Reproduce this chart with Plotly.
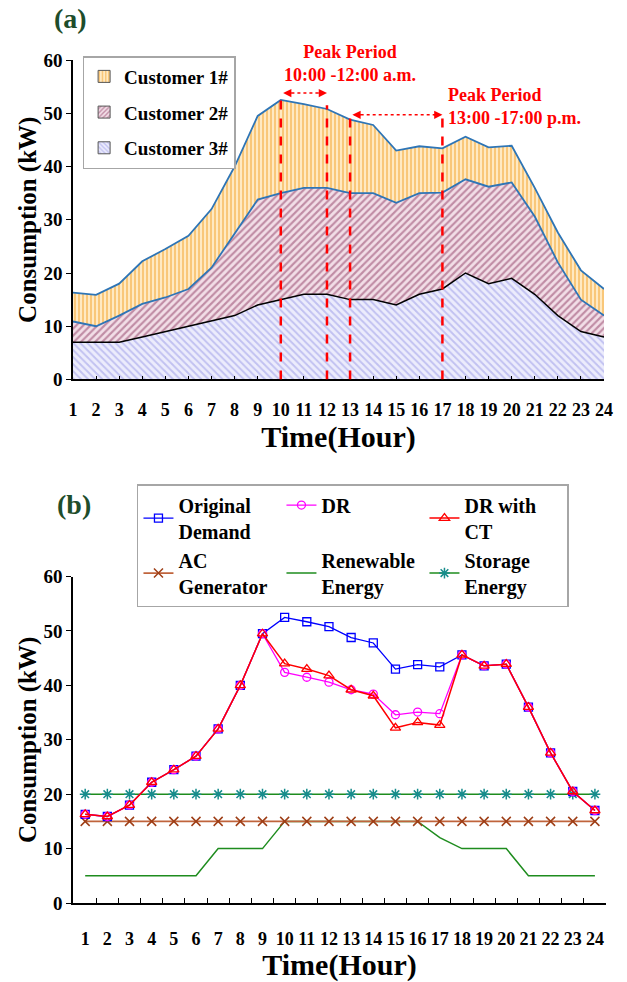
import plotly.graph_objects as go

# ---------------- data ----------------
hours = list(range(1, 25))
hour_labels = [str(h) for h in hours]

cust3 = [7, 7, 7, 8, 9, 10, 11, 12, 14, 15, 16, 16, 15, 15, 14, 16, 17, 20, 18, 19, 16, 12, 9, 8]
cust2 = [3.9, 3, 5, 6.2, 6.4, 7, 10, 15.5, 19.8, 20, 20, 20, 20, 20, 19.2, 19, 18.1, 17.6, 18.2, 18, 14.6, 10, 6, 4]
cust1 = [5.4, 5.9, 6, 8, 9.1, 10, 11, 12.5, 15.7, 17.5, 15.7, 14.8, 13.8, 12.8, 9.8, 8.8, 8.3, 8, 7.4, 6.9, 5.4, 5.6, 5.5, 5]

original_demand = [16.3, 15.9, 18, 22.2, 24.5, 27, 32, 40, 49.5, 52.5, 51.7, 50.8, 48.8, 47.8, 43, 43.8, 43.4, 45.6, 43.6, 43.9, 36, 27.6, 20.5, 17]
dr = [16.3, 15.9, 18, 22.2, 24.5, 27, 32, 40, 49.5, 42.4, 41.5, 40.6, 39.2, 38.4, 34.6, 35.1, 34.8, 45.6, 43.6, 43.9, 36, 27.6, 20.5, 17]
dr_ct = [16.3, 15.9, 18, 22.2, 24.5, 27, 32, 40, 49.5, 44.0, 43.0, 41.8, 39.2, 38.1, 32.2, 33.2, 32.7, 45.6, 43.6, 43.9, 36, 27.6, 20.5, 17]
ac_generator = [15] * 24
renewable = [5, 5, 5, 5, 5, 5, 10, 10, 10, 15, 15, 15, 15, 15, 15, 15, 12, 10, 10, 10, 5, 5, 5, 5]
storage = [20] * 24

peak_lines = [(10, 53), (12, 51.5), (13, 49.3), (17, 49.7)]

FONT = "Times New Roman, Liberation Serif, serif"
BLUE_LINE = "#2E75B6"

pat1 = dict(shape="|", fgcolor="#F29E1E", bgcolor="#FFE9C2", size=4, solidity=0.45)
pat2 = dict(shape="/", fgcolor="#8E3A62", bgcolor="#F2DEE7", size=5, solidity=0.42)
pat3 = dict(shape="\\", fgcolor="#9696E6", bgcolor="#ECECFC", size=5, solidity=0.38)

fig = go.Figure()

# ---------------- (a) stacked areas ----------------
fig.add_trace(go.Scatter(
    x=hours, y=cust3, name="Customer 3#", stackgroup="a", mode="lines",
    line=dict(color="black", width=1.5), fillpattern=pat3, showlegend=False,
    xaxis="x", yaxis="y"))
fig.add_trace(go.Scatter(
    x=hours, y=cust2, name="Customer 2#", stackgroup="a", mode="lines",
    line=dict(color=BLUE_LINE, width=1.8), fillpattern=pat2, showlegend=False,
    xaxis="x", yaxis="y"))
fig.add_trace(go.Scatter(
    x=hours, y=cust1, name="Customer 1#", stackgroup="a", mode="lines",
    line=dict(color=BLUE_LINE, width=1.8), fillpattern=pat1, showlegend=False,
    xaxis="x", yaxis="y"))

# legend swatches for (a)
for nm, pat, rk in [("Customer 1#", pat1, 1), ("Customer 2#", pat2, 2), ("Customer 3#", pat3, 3)]:
    fig.add_trace(go.Bar(
        x=[None], y=[None], name=nm, legend="legend", legendrank=rk, legendgroup=nm,
        marker=dict(color=pat["bgcolor"], line=dict(color="#555555", width=1),
                    pattern=dict(shape=pat["shape"], fgcolor=pat["fgcolor"],
                                 bgcolor=pat["bgcolor"], size=4, solidity=0.45)),
        xaxis="x", yaxis="y"))

# ---------------- (b) lines ----------------
fig.add_trace(go.Scatter(
    x=hours, y=renewable, name="Renewable<br>Energy", mode="lines",
    line=dict(color="#1E8C1E", width=1.5), legend="legend2", legendrank=5,
    xaxis="x2", yaxis="y2"))
fig.add_trace(go.Scatter(
    x=hours, y=ac_generator, name="AC<br>Generator", mode="lines+markers",
    line=dict(color="#C0643C", width=1.8),
    marker=dict(symbol="x-thin-open", size=9, color="#9E3E16",
                line=dict(color="#9E3E16", width=1.5)),
    legend="legend2", legendrank=4, xaxis="x2", yaxis="y2"))
fig.add_trace(go.Scatter(
    x=hours, y=storage, name="Storage<br>Energy", mode="lines+markers",
    line=dict(color="#1E8C1E", width=1.5),
    marker=dict(symbol="asterisk-open", size=9, color="#178C8C",
                line=dict(color="#178C8C", width=1.5)),
    legend="legend2", legendrank=6, xaxis="x2", yaxis="y2"))
fig.add_trace(go.Scatter(
    x=hours, y=original_demand, name="Original<br>Demand", mode="lines+markers",
    line=dict(color="#0000FF", width=1.3),
    marker=dict(symbol="square-open", size=8, color="#0000FF",
                line=dict(color="#0000FF", width=1.3)),
    legend="legend2", legendrank=1, xaxis="x2", yaxis="y2"))
fig.add_trace(go.Scatter(
    x=hours, y=dr, name="DR", mode="lines+markers",
    line=dict(color="#FF00FF", width=1.3),
    marker=dict(symbol="circle-open", size=8, color="#FF00FF",
                line=dict(color="#FF00FF", width=1.3)),
    legend="legend2", legendrank=2, xaxis="x2", yaxis="y2"))
fig.add_trace(go.Scatter(
    x=hours, y=dr_ct, name="DR with<br>CT", mode="lines+markers",
    line=dict(color="#FF0000", width=1.5),
    marker=dict(symbol="triangle-up-open", size=9, color="#FF0000",
                line=dict(color="#FF0000", width=1.3)),
    legend="legend2", legendrank=3, xaxis="x2", yaxis="y2"))

# ---------------- shapes / annotations ----------------
shapes = []
for xv, top in peak_lines:
    shapes.append(dict(type="line", xref="x", yref="y", x0=xv, x1=xv, y0=0, y1=top,
                       line=dict(color="#FF0000", width=2.5, dash="dash"), layer="above"))
shapes.append(dict(type="line", xref="x", yref="y", x0=10.2, x1=11.8, y0=53.8, y1=53.8,
                   line=dict(color="#FF0000", width=1.5, dash="dot")))
shapes.append(dict(type="line", xref="x", yref="y", x0=13.2, x1=16.8, y0=49.7, y1=49.7,
                   line=dict(color="#FF0000", width=1.5, dash="dot")))

annotations = []
for (hx, hy, ax) in [(10.1, 53.8, 10), (12.0, 53.8, -10), (13.1, 49.7, 10), (17.0, 49.7, -10)]:
    annotations.append(dict(x=hx, y=hy, xref="x", yref="y", ax=ax, ay=0, text="",
                            showarrow=True, arrowhead=2, arrowsize=1.1, arrowwidth=1.5,
                            arrowcolor="#FF0000", standoff=0))
annotations.append(dict(x=13.0, y=59.3, xref="x", yref="y",
                        text="Peak Period<br>10:00 -12:00 a.m.", showarrow=False,
                        align="center", xanchor="center", yanchor="middle",
                        font=dict(family=FONT, size=18, color="#FF0000", weight="bold")))
annotations.append(dict(x=17.15, y=51.2, xref="x", yref="y",
                        text="Peak Period<br>13:00 -17:00 p.m.", showarrow=False,
                        align="left", xanchor="left", yanchor="middle",
                        font=dict(family=FONT, size=18, color="#FF0000", weight="bold")))
annotations.append(dict(x=-0.004, y=1.0496, xref="paper", yref="paper", text="(a)",
                        showarrow=False, xanchor="center", yanchor="middle",
                        font=dict(family=FONT, size=28, color="#1E4D2B", weight="bold")))
annotations.append(dict(x=0.002, y=0.4723, xref="paper", yref="paper", text="(b)",
                        showarrow=False, xanchor="center", yanchor="middle",
                        font=dict(family=FONT, size=28, color="#1E4D2B", weight="bold")))

xtickfont = dict(family=FONT, size=18, color="black", weight="bold")
ytickfont = dict(family=FONT, size=19, color="black", weight="bold")
xtitlefont = dict(family=FONT, size=30, color="black", weight="bold")
ytitlefont = dict(family=FONT, size=25, color="black", weight="bold")

fig.update_layout(
    width=627, height=982,
    margin=dict(l=73, r=12, t=60, b=75),
    paper_bgcolor="white", plot_bgcolor="white",
    font=dict(family=FONT, color="black"),
    shapes=shapes, annotations=annotations,
    barmode="overlay",
    xaxis=dict(domain=[0, 0.9963], anchor="y", range=[1, 24], tickmode="array",
               tickvals=hours, ticktext=hour_labels, ticks="inside", ticklen=4,
               tickcolor="black", showline=True, linecolor="black", linewidth=1.5,
               showgrid=False, zeroline=False, tickfont=xtickfont, ticklabelstandoff=13,
               title=dict(text="Time(Hour)", font=xtitlefont, standoff=0)),
    yaxis=dict(domain=[0.621, 1], anchor="x", range=[0, 60], tickmode="linear", tick0=0,
               dtick=10, ticks="outside", ticklen=5, tickcolor="black", showline=True,
               linecolor="black", linewidth=1.5, showgrid=False, zeroline=False,
               tickfont=ytickfont,
               title=dict(text="Consumption (kW)", font=ytitlefont, standoff=0)),
    xaxis2=dict(domain=[0, 1], anchor="y2", range=[0.45, 24.5], tickmode="array",
                tickvals=hours, ticktext=hour_labels, ticks="", showline=True,
                linecolor="black", linewidth=1.5, showgrid=False, zeroline=False,
                tickfont=xtickfont, ticklabelstandoff=19,
                minor=dict(tickmode="array", tickvals=[h + 0.5 for h in hours[:-1]],
                           ticks="inside", ticklen=5, tickcolor="black", showgrid=False),
                title=dict(text="Time(Hour)", font=xtitlefont, standoff=0)),
    yaxis2=dict(domain=[0, 0.3872], anchor="x2", range=[0, 60], tickmode="linear", tick0=0,
                dtick=10, ticks="outside", ticklen=5, tickcolor="black", showline=True,
                linecolor="black", linewidth=1.5, showgrid=False, zeroline=False,
                tickfont=ytickfont,
                title=dict(text="Consumption (kW)", font=ytitlefont, standoff=0)),
    legend=dict(x=0.018, y=1.0047, xanchor="left", yanchor="top",
                traceorder="grouped", tracegroupgap=8,
                bgcolor="white", bordercolor="#A6A6A6", borderwidth=1.5,
                font=dict(family=FONT, size=19, color="black", weight="bold"),
                itemwidth=30),
    legend2=dict(x=0.12, y=0.497, xanchor="left", yanchor="top", orientation="h",
                 entrywidth=98, entrywidthmode="pixels", tracegroupgap=0,
                 bgcolor="white", bordercolor="#A6A6A6", borderwidth=1.5,
                 font=dict(family=FONT, size=20, color="black", weight="bold"),
                 itemwidth=30),
)

fig.write_html("out.html")
